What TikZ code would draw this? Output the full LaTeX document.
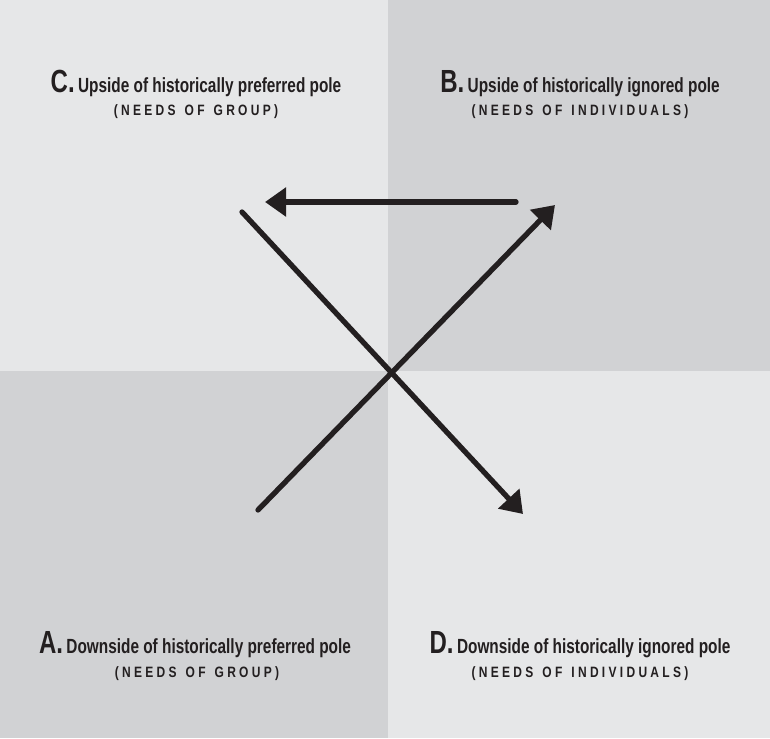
\documentclass[tikz,border=0pt]{standalone}
\usepackage{fontspec}
\setmainfont{Liberation Sans}
\newfontfamily\condfont{Liberation Sans}[FakeStretch=0.75]
\newfontfamily\subfont{Liberation Sans}[FakeStretch=0.8,LetterSpace=22]
\usetikzlibrary{arrows.meta}
\definecolor{lightq}{HTML}{E6E7E8}
\definecolor{darkq}{HTML}{D1D2D4}
\definecolor{ink}{HTML}{231F20}
\tikzset{
  conn/.style={draw=ink, line width=5.3pt, line cap=round},
  arr/.style={conn, -{Triangle[length=21pt,width=28pt]}},
  title/.style={anchor=base, inner sep=0pt, text=ink, font=\condfont\bfseries\fontsize{20.5}{21}\selectfont},
  subtitle/.style={anchor=base, inner sep=0pt, text=ink, font=\subfont\bfseries\fontsize{15}{15}\selectfont},
}
\newcommand{\bigletter}[1]{{\fontsize{32}{32}\selectfont #1}\,}
\newcommand{\wsp}{\hspace{9pt}}
\begin{document}
\begin{tikzpicture}[x=1pt,y=-1pt]
\fill[lightq] (0,0) rectangle (388,371);
\fill[darkq] (388,0) rectangle (770,371);
\fill[darkq] (0,371) rectangle (388,738);
\fill[lightq] (388,371) rectangle (770,738);
\useasboundingbox (0,0) rectangle (770,738);

\node[title] (ct) at (196,92.5) {\bigletter{C.}Upside of historically preferred pole};
\node[subtitle] (cs) at (196,116) {(NEEDS\wsp OF\wsp GROUP)};
\node[title] (bt) at (580,92.5) {\bigletter{B.}Upside of historically ignored pole};
\node[subtitle] (bs) at (580,116) {(NEEDS\wsp OF\wsp INDIVIDUALS)};
\node[title] (at) at (195,653) {\bigletter{A.}Downside of historically preferred pole};
\node[subtitle] (as) at (197,677) {(NEEDS\wsp OF\wsp GROUP)};
\node[title] (dt) at (580,653) {\bigletter{D.}Downside of historically ignored pole};
\node[subtitle] (ds) at (580,677) {(NEEDS\wsp OF\wsp INDIVIDUALS)};

\coordinate (h1) at (516,202);
\coordinate (h2) at (265,202);
\coordinate (d1s) at (242,212);
\coordinate (d1e) at (523,514);
\coordinate (d2s) at (258,510);
\coordinate (d2e) at (555,205);

\draw[arr] (h1) -- (h2);
\draw[arr] (d1s) -- (d1e);
\draw[arr] (d2s) -- (d2e);
\end{tikzpicture}
\end{document}
